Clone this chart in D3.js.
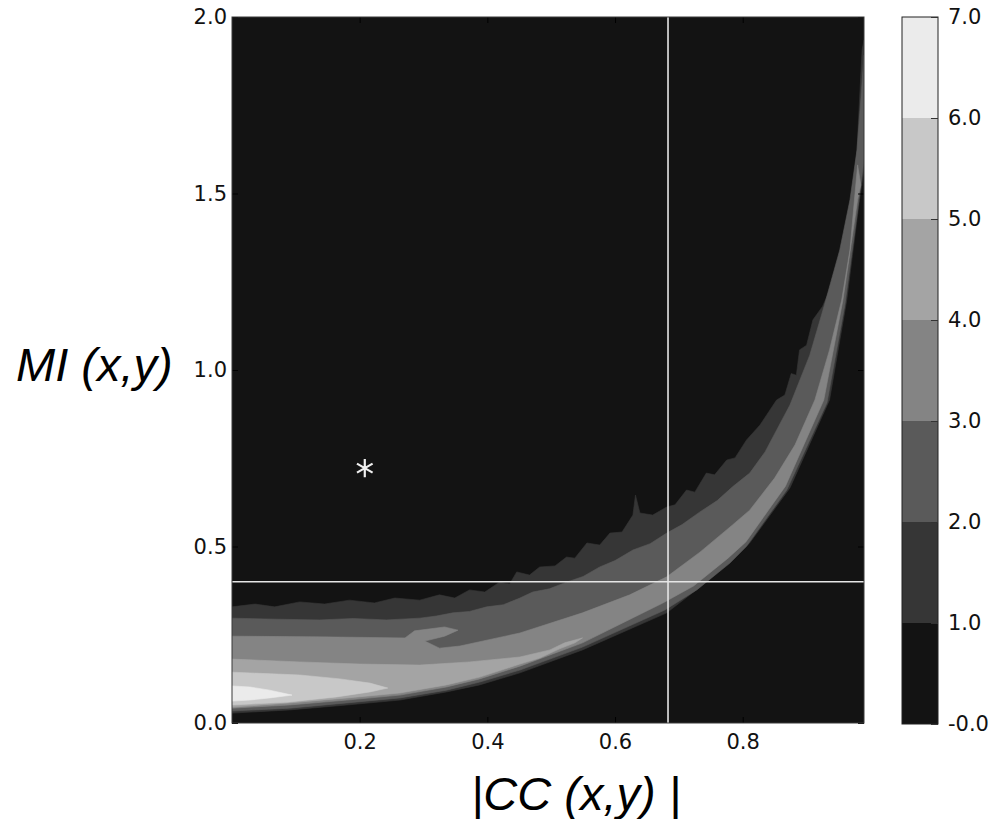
<!DOCTYPE html>
<html>
<head>
<meta charset="utf-8">
<script src="https://cdn.jsdelivr.net/npm/d3@7/dist/d3.min.js"></script>
<style>
	html, body { margin: 0; padding: 0; background: #fff; }
	svg { display: block; }
</style>
</head>
<body>
<div id="chart"></div>
<script>
// contour levels and their tick labels on the colour bar
const levels = [0, 1, 2, 3, 4, 5, 6, 7];
const levelLabels = ['-0.0', '1.0', '2.0', '3.0', '4.0', '5.0', '6.0', '7.0'];

const xTicks = [0.2, 0.4, 0.6, 0.8];
const yTicks = [0.0, 0.5, 1.0, 1.5, 2.0];

// reference lines and the marked point
const refCC = 0.683;
const refMI = 0.4;
const starPoint = [0.208, 0.722];

// filled contour outlines, [ |CC|, MI ]
const contour1 = [
	[0.000, 0.329], [0.036, 0.337], [0.067, 0.329], [0.106, 0.343], [0.145, 0.337], [0.184, 0.348],
	[0.223, 0.340], [0.255, 0.354], [0.294, 0.348], [0.325, 0.363], [0.349, 0.354], [0.372, 0.377],
	[0.396, 0.371], [0.419, 0.399], [0.435, 0.394], [0.446, 0.428], [0.466, 0.419], [0.482, 0.442],
	[0.506, 0.445], [0.524, 0.470], [0.537, 0.467], [0.556, 0.510], [0.576, 0.504], [0.592, 0.538],
	[0.611, 0.541], [0.628, 0.589], [0.632, 0.646], [0.639, 0.595], [0.659, 0.589], [0.681, 0.612],
	[0.694, 0.618], [0.712, 0.660], [0.725, 0.654], [0.743, 0.708], [0.756, 0.703], [0.775, 0.745],
	[0.788, 0.751], [0.806, 0.802], [0.827, 0.844], [0.853, 0.915], [0.866, 0.929], [0.876, 0.990],
	[0.884, 0.985], [0.889, 1.057], [0.900, 1.070], [0.910, 1.142], [0.925, 1.180], [0.941, 1.246],
	[0.955, 1.320], [0.963, 1.388], [0.971, 1.482], [0.979, 1.623], [0.983, 1.765],
	[0.987, 1.907], [0.990, 1.935],
	[0.990, 1.567], [0.983, 1.482], [0.963, 1.198], [0.936, 0.915], [0.874, 0.666], [0.811, 0.510],
	[0.784, 0.462], [0.733, 0.385], [0.681, 0.312], [0.549, 0.207], [0.451, 0.142], [0.388, 0.108],
	[0.336, 0.088], [0.263, 0.065], [0.180, 0.051], [0.090, 0.037], [0.000, 0.028]
];

const contour2 = [
	[0.000, 0.297], [0.070, 0.294], [0.137, 0.292], [0.190, 0.296], [0.242, 0.292], [0.294, 0.297],
	[0.320, 0.303], [0.346, 0.312], [0.372, 0.316], [0.399, 0.329], [0.425, 0.335], [0.451, 0.354],
	[0.471, 0.371], [0.497, 0.380], [0.524, 0.399], [0.550, 0.415], [0.576, 0.442], [0.600, 0.460],
	[0.628, 0.490], [0.655, 0.508], [0.681, 0.538], [0.705, 0.562], [0.733, 0.598], [0.760, 0.630],
	[0.784, 0.669], [0.811, 0.708], [0.835, 0.768], [0.874, 0.901], [0.905, 1.042],
	[0.928, 1.184], [0.952, 1.340], [0.968, 1.482], [0.979, 1.623], [0.985, 1.765], [0.990, 1.892],
	[0.990, 1.595], [0.980, 1.453], [0.960, 1.184], [0.932, 0.907], [0.869, 0.660], [0.806, 0.501],
	[0.780, 0.453], [0.728, 0.377], [0.678, 0.320], [0.549, 0.215], [0.451, 0.150], [0.388, 0.116],
	[0.336, 0.093], [0.263, 0.071], [0.180, 0.057], [0.090, 0.042], [0.000, 0.034]
];

const contour3 = [
	[0.000, 0.246], [0.137, 0.244], [0.271, 0.241], [0.286, 0.261], [0.333, 0.272], [0.354, 0.263],
	[0.333, 0.246], [0.302, 0.232], [0.325, 0.212], [0.357, 0.218], [0.451, 0.255], [0.549, 0.312],
	[0.623, 0.363], [0.681, 0.414], [0.733, 0.484], [0.784, 0.561], [0.811, 0.603], [0.850, 0.694],
	[0.882, 0.788], [0.913, 0.915], [0.936, 1.057], [0.955, 1.198], [0.968, 1.340], [0.975, 1.482],
	[0.980, 1.581],
	[0.985, 1.524], [0.980, 1.482], [0.957, 1.198], [0.927, 0.915], [0.867, 0.671], [0.805, 0.513],
	[0.777, 0.467], [0.723, 0.388], [0.675, 0.340], [0.549, 0.227], [0.451, 0.161], [0.388, 0.125],
	[0.336, 0.102], [0.263, 0.079], [0.180, 0.065], [0.090, 0.051], [0.000, 0.042]
];

const contour4 = [
	[0.000, 0.181], [0.106, 0.173], [0.200, 0.167], [0.294, 0.164], [0.372, 0.173], [0.451, 0.187],
	[0.498, 0.207], [0.521, 0.227], [0.549, 0.241], [0.537, 0.227], [0.513, 0.210], [0.482, 0.184],
	[0.451, 0.167], [0.388, 0.130], [0.336, 0.108], [0.263, 0.085], [0.180, 0.071], [0.090, 0.057],
	[0.000, 0.045]
];

const contour5 = [
	[0.000, 0.144], [0.106, 0.136], [0.169, 0.125], [0.216, 0.113], [0.244, 0.099], [0.216, 0.088],
	[0.164, 0.074], [0.086, 0.059], [0.000, 0.051]
];

const contour6 = [
	[0.000, 0.105], [0.028, 0.102], [0.059, 0.093], [0.094, 0.079], [0.059, 0.071], [0.028, 0.065],
	[0.000, 0.062]
];

const contours = [
	{ level: 1, points: contour1 },
	{ level: 2, points: contour2 },
	{ level: 3, points: contour3 },
	{ level: 4, points: contour4 },
	{ level: 5, points: contour5 },
	{ level: 6, points: contour6 }
];

const Chart = (function() {
	const chart = {};

	const MARGIN = { LEFT: 232, TOP: 17 };
	const PLOT_W = 632;
	const PLOT_H = 706;

	const grey = d3.scaleOrdinal()
		.domain([0, 1, 2, 3, 4, 5, 6])
		.range(['#131313', '#363636', '#5a5a5a', '#848484', '#a4a4a4', '#c8c8c8', '#ebebeb']);

	const tickFont = function(sel) {
		sel.selectAll('text')
			.style('font-family', 'DejaVu Sans')
			.style('font-size', '21px')
			.attr('fill', '#111');
	};

	const drawPlot = function(svg) {
		const x = d3.scaleLinear().domain([0, 0.99]).range([0, PLOT_W]);
		const y = d3.scaleLinear().domain([0, 2]).range([PLOT_H, 0]);

		const g = svg.append('g')
			.attr('transform', `translate(${MARGIN.LEFT},${MARGIN.TOP})`);

		g.append('clipPath')
			.attr('id', 'plot-clip')
			.append('rect')
				.attr('width', PLOT_W)
				.attr('height', PLOT_H);

		g.append('rect')
			.attr('width', PLOT_W)
			.attr('height', PLOT_H)
			.attr('fill', grey(0));

		const line = d3.line()
			.x(d => x(d[0]))
			.y(d => y(d[1]))
			.curve(d3.curveLinearClosed);

		g.append('g')
			.attr('clip-path', 'url(#plot-clip)')
			.selectAll('path')
			.data(contours)
			.join('path')
				.attr('d', d => line(d.points))
				.attr('fill', d => grey(d.level))
				.attr('stroke', d => grey(d.level))
				.attr('stroke-width', 0.6)
				.attr('stroke-linejoin', 'round');

		// cross hair
		g.append('line')
			.attr('x1', x(refCC)).attr('x2', x(refCC))
			.attr('y1', 0).attr('y2', PLOT_H)
			.attr('stroke', '#e6e6e6')
			.attr('stroke-width', 1.6);

		g.append('line')
			.attr('x1', 0).attr('x2', PLOT_W)
			.attr('y1', y(refMI)).attr('y2', y(refMI))
			.attr('stroke', '#e6e6e6')
			.attr('stroke-width', 1.6);

		g.append('path')
			.attr('d', d3.symbol(d3.symbolAsterisk, 230)())
			.attr('transform', `translate(${x(starPoint[0])},${y(starPoint[1])})`)
			.attr('fill', 'none')
			.attr('stroke', '#f0f0f0')
			.attr('stroke-width', 2.2);

		// inward ticks on every side, labels on left and bottom
		g.append('g')
			.attr('transform', `translate(0,${PLOT_H})`)
			.call(d3.axisBottom(x).tickValues(xTicks).tickFormat(d3.format('.1f')).tickSize(-6).tickPadding(11))
			.call(tickFont);

		g.append('g')
			.call(d3.axisLeft(y).tickValues(yTicks).tickFormat(d3.format('.1f')).tickSize(-6).tickPadding(5))
			.call(tickFont);

		g.append('g')
			.call(d3.axisTop(x).tickValues(xTicks).tickFormat('').tickSize(-6));

		g.append('g')
			.attr('transform', `translate(${PLOT_W},0)`)
			.call(d3.axisRight(y).tickValues(yTicks).tickFormat('').tickSize(-6));

		g.selectAll('.domain').remove();
		g.selectAll('.tick line').attr('stroke', '#000');

		g.append('rect')
			.attr('width', PLOT_W)
			.attr('height', PLOT_H)
			.attr('fill', 'none')
			.attr('stroke', '#3a3a3a')
			.attr('stroke-width', 1);
	};

	const drawColorbar = function(svg) {
		const cb = svg.append('g')
			.attr('transform', 'translate(902,17)');

		const cy = d3.scaleLinear().domain([0, 7]).range([707, 0]);

		cb.selectAll('rect.band')
			.data(levels.slice(0, -1))
			.join('rect')
				.attr('class', 'band')
				.attr('x', 0)
				.attr('width', 36)
				.attr('y', d => cy(d + 1))
				.attr('height', d => cy(d) - cy(d + 1))
				.attr('fill', d => grey(d));

		cb.append('rect')
			.attr('width', 36)
			.attr('height', 707)
			.attr('fill', 'none')
			.attr('stroke', '#222')
			.attr('stroke-width', 1);

		cb.append('g')
			.attr('transform', 'translate(36,0)')
			.call(d3.axisRight(cy).tickValues(levels).tickFormat((d, i) => levelLabels[i]).tickSize(-7).tickPadding(10))
			.call(tickFont)
			.call(a => a.select('.domain').remove())
			.call(a => a.selectAll('.tick line').attr('stroke', '#333'));
	};

	chart.plot = function() {
		const svg = d3.select('#chart').append('svg')
			.attr('width', 991)
			.attr('height', 819);

		drawPlot(svg);
		drawColorbar(svg);

		svg.append('text')
			.text('MI (x,y)')
			.attr('x', 16)
			.attr('y', 381)
			.style('font-family', 'Liberation Sans')
			.style('font-style', 'italic')
			.style('font-size', '47px')
			.attr('fill', '#000');

		svg.append('text')
			.text('|CC (x,y) |')
			.attr('x', 576)
			.attr('y', 810)
			.attr('text-anchor', 'middle')
			.style('font-family', 'Liberation Sans')
			.style('font-style', 'italic')
			.style('font-size', '47px')
			.attr('fill', '#000');
	};

	return chart;
})();

Chart.plot();
</script>
</body>
</html>
